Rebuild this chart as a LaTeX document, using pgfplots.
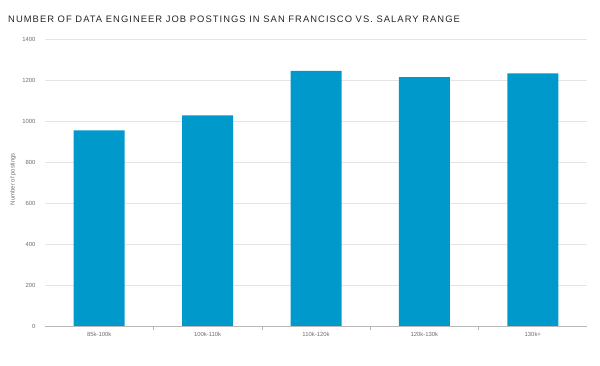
\documentclass[border=0pt]{standalone}
\usepackage{pgfplots}
\pgfplotsset{compat=1.18}
\usepackage{fontspec}
\setmainfont{Liberation Sans}
\definecolor{barblue}{RGB}{0,153,204}
\definecolor{gridgray}{RGB}{228,228,228}
\definecolor{labgray}{RGB}{110,110,110}
\begin{document}
\begin{tikzpicture}[x=1pt,y=1pt]
\useasboundingbox (0,0) rectangle (600,366);
\node[anchor=west,inner sep=0pt,font=\fontsize{9.4}{10}\selectfont\addfontfeature{LetterSpace=11}, text=black!85] at (8,347) {NUMBER OF DATA ENGINEER JOB POSTINGS IN SAN FRANCISCO VS. SALARY RANGE};
\begin{axis}[
  at={(45pt,40pt)}, anchor=south west,
  scale only axis, width=542pt, height=287pt,
  ybar, bar width=51pt,
  xmin=-0.5, xmax=4.5, ymin=0, ymax=1400,
  ytick={0,200,...,1400},
  xtick={0,1,2,3,4},
  xticklabels={85k-100k,100k-110k,110k-120k,120k-130k,130k+},
  major tick length=0pt,
  extra x ticks={0.5,1.5,2.5,3.5},
  extra x tick labels={},
  extra x tick style={major tick length=4pt, tick align=outside, grid=none},
  separate axis lines,
  axis x line*=bottom, axis y line*=left,
  x axis line style={draw=gray!55, line width=0.6pt, -},
  y axis line style={draw=none},
  xtick style={draw=gray!60, line width=0.5pt}, ytick style={draw=none},
  ymajorgrids, grid style={draw=gridgray, line width=0.6pt},
  tick label style={font=\fontsize{5.9}{6}\selectfont, text=labgray},
  /pgf/number format/assume math mode=true,
  /pgf/number format/1000 sep={},
  yticklabel style={xshift=-6pt},
  xticklabel style={yshift=-3pt},
  ylabel={Number of postings},
  ylabel style={font=\fontsize{6}{7}\selectfont, text=labgray, at={(axis description cs:-0.059,0.512)}, anchor=center},
]
\addplot[fill=barblue, draw=none, bar shift=0pt] coordinates {(0,954) (1,1027) (2,1244) (3,1214) (4,1232)};
\end{axis}
\end{tikzpicture}
\end{document}
